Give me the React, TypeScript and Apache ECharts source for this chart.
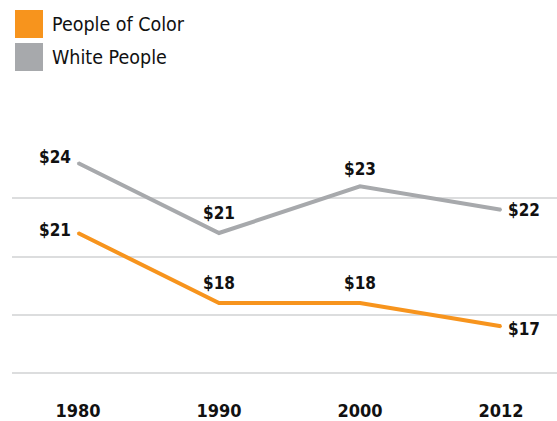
import React, { useEffect, useRef } from "react";
import * as echarts from "echarts";

const years = ["1980", "1990", "2000", "2012"];
const peopleOfColor = [21, 18, 18, 17];
const whitePeople = [24, 21, 23, 22];
const seriesNames = ["People of Color", "White People"];
const yMin = 15;
const yMax = 25;
const yStep = 2.5;

const FONT = "'DejaVu Sans Condensed', 'Liberation Sans Narrow', sans-serif";
const ORANGE = "#F7941D";
const GRAY = "#A7A9AC";

function buildData(values: number[], offsets: number[][]) {
  return values.map((v, i) => {
    const last = i === values.length - 1;
    const first = i === 0;
    return {
      value: v,
      label: {
        position: first ? "left" : last ? "right" : "top",
        distance: first ? 6 : last ? 6 : 11,
        offset: offsets[i],
      },
    };
  });
}

export default function App() {
  const ref = useRef<HTMLDivElement>(null);
  useEffect(() => {
    if (!ref.current) return;
    const chart = echarts.init(ref.current, null, { renderer: "svg" });
    const labelStyle = {
      show: true,
      formatter: (p: any) => "$" + Math.round(p.value),
      fontFamily: FONT,
      fontWeight: "bold",
      fontSize: 17,
      color: "#111",
    };
    chart.setOption({
      animation: false,
      backgroundColor: "#fff",
      legend: {
        orient: "vertical",
        left: 10,
        top: 5,
        itemWidth: 28,
        itemHeight: 28,
        itemGap: 5,
        icon: "rect",
        data: seriesNames,
        textStyle: {
          fontFamily: FONT,
          fontSize: 19.5,
          color: "#111",
          padding: [0, 0, 0, 4],
        },
      },
      grid: [
        { left: 12, right: 0, top: 139.7, bottom: 48 },
        { left: 78, right: 56, top: 139.7, bottom: 48 },
      ],
      xAxis: [
        { type: "category", gridIndex: 0, data: years, show: false },
        {
          type: "category",
          gridIndex: 1,
          data: years,
          boundaryGap: false,
          axisLine: { show: false },
          axisTick: { show: false },
          axisLabel: {
            margin: 28,
            fontFamily: FONT,
            fontWeight: "bold",
            fontSize: 18,
            color: "#111",
          },
        },
      ],
      yAxis: [
        {
          type: "value",
          gridIndex: 0,
          min: yMin,
          max: yMax,
          interval: yStep,
          axisLine: { show: false },
          axisTick: { show: false },
          axisLabel: { show: false },
          splitLine: {
            show: true,
            lineStyle: {
              width: 2,
              color: ["#DCDDDE", "#DCDDDE", "#DCDDDE", "#DCDDDE", "rgba(0,0,0,0)"],
            },
          },
        },
        {
          type: "value",
          gridIndex: 1,
          min: yMin,
          max: yMax,
          interval: yStep,
          show: false,
          splitLine: { show: false },
        },
      ],
      series: [
        {
          name: seriesNames[0],
          type: "line",
          xAxisIndex: 1,
          yAxisIndex: 1,
          data: buildData(peopleOfColor, [[0, -3], [0, 0], [0, 0], [0, 3]]),
          symbol: "circle",
          symbolSize: 2,
          itemStyle: { color: ORANGE },
          lineStyle: { color: ORANGE, width: 4, join: "miter", cap: "butt" },
          label: labelStyle,
          z: 3,
        },
        {
          name: seriesNames[1],
          type: "line",
          xAxisIndex: 1,
          yAxisIndex: 1,
          data: buildData(whitePeople, [[0, -6], [0, 0], [0, 3], [0, 0]]),
          symbol: "circle",
          symbolSize: 2,
          itemStyle: { color: GRAY },
          lineStyle: { color: GRAY, width: 4, join: "miter", cap: "butt" },
          label: labelStyle,
          z: 2,
        },
      ],
    });
    return () => chart.dispose();
  }, []);
  return <div ref={ref} style={{ width: 557, height: 421, position: "absolute", left: 0, top: 0 }} />;
}
